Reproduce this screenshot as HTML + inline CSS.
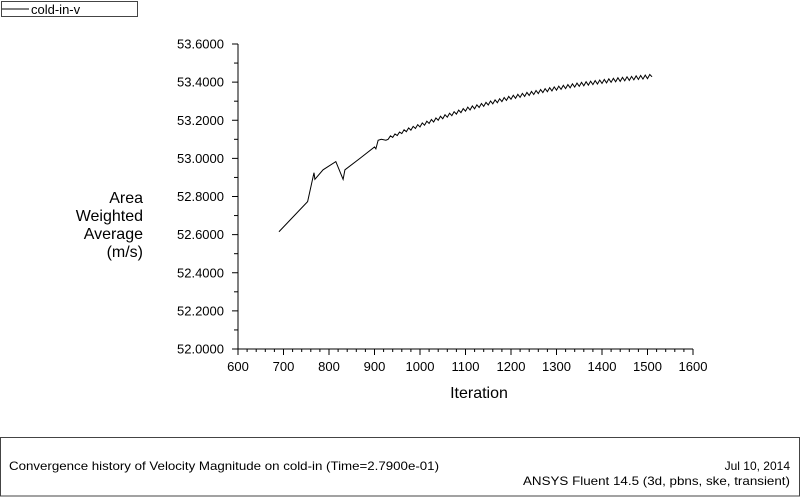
<!DOCTYPE html>
<html><head><meta charset="utf-8"><style>
html,body{margin:0;padding:0;background:#fff;}
svg{display:block;font-family:"Liberation Sans",Arial,sans-serif;}
</style></head><body>
<svg id="chart" width="800" height="497" viewBox="0 0 800 497" xmlns="http://www.w3.org/2000/svg">
<g>
<rect x="1.5" y="1.5" width="136" height="15" fill="#fff" stroke="#444" stroke-width="1"/>
<line x1="2" y1="9" x2="29" y2="9" stroke="#000" stroke-width="1"/>
<text x="31" y="14" font-size="13" fill="#000">cold-in-v</text>
</g>
<g font-size="16" text-anchor="end" fill="#000">
<text x="143" y="203">Area</text>
<text x="143" y="221">Weighted</text>
<text x="143" y="239">Average</text>
<text x="143" y="257">(m/s)</text>
</g>
<text x="479" y="398" font-size="16" text-anchor="middle">Iteration</text>
<g id="axes"></g>
<g id="series"></g>
<g>
<rect x="0.5" y="437.5" width="799" height="58.5" fill="none" stroke="#444"/>
<text x="9" y="470" font-size="12" textLength="430" lengthAdjust="spacingAndGlyphs">Convergence history of Velocity Magnitude on cold-in  (Time=2.7900e-01)</text>
<text x="790" y="470" font-size="12" text-anchor="end">Jul 10, 2014</text>
<text x="790" y="485" font-size="12" text-anchor="end" textLength="267" lengthAdjust="spacingAndGlyphs">ANSYS Fluent 14.5 (3d, pbns, ske, transient)</text>
</g>
</svg>
<script>
const xTicks = [600,700,800,900,1000,1100,1200,1300,1400,1500,1600];
const yTicks = [52.0,52.2,52.4,52.6,52.8,53.0,53.2,53.4,53.6];
const yTickLabels = ["52.0000","52.2000","52.4000","52.6000","52.8000","53.0000","53.2000","53.4000","53.6000"];
const earlyIter = [690,753,767,769,787,815,831,835,868,900,903,908,915,925];
const earlyVal  = [52.615,52.773,52.925,52.89,52.94,52.983,52.89,52.94,53.0,53.06,53.05,53.095,53.10,53.095];
const troughIter = [930,940,950,960,970,980,990,1000,1010,1020,1030,1040,1050,1060,1070,1080,1090,1100,1110,1120,1130,1140,1150,1160,1170,1180,1190,1200,1210,1220,1230,1240,1250,1260,1270,1280,1290,1300,1310,1320,1330,1340,1350,1360,1370,1380,1390,1400,1410,1420,1430,1440,1450,1460,1470,1480,1490,1500];
const troughVal = [53.100,53.110,53.120,53.130,53.140,53.148,53.157,53.165,53.174,53.183,53.191,53.200,53.208,53.216,53.224,53.232,53.240,53.248,53.254,53.260,53.267,53.273,53.280,53.286,53.292,53.298,53.304,53.310,53.315,53.320,53.325,53.330,53.335,53.340,53.345,53.350,53.354,53.358,53.362,53.366,53.370,53.374,53.378,53.381,53.384,53.387,53.390,53.393,53.396,53.399,53.402,53.404,53.407,53.409,53.412,53.414,53.416,53.418];
const peakVal = [53.118,53.128,53.138,53.150,53.160,53.168,53.177,53.186,53.195,53.204,53.212,53.221,53.229,53.237,53.245,53.253,53.261,53.269,53.275,53.281,53.288,53.294,53.301,53.307,53.313,53.319,53.325,53.331,53.336,53.341,53.346,53.351,53.356,53.361,53.366,53.371,53.375,53.379,53.383,53.387,53.391,53.395,53.399,53.402,53.405,53.408,53.411,53.414,53.417,53.420,53.423,53.425,53.428,53.430,53.433,53.435,53.437,53.440];
const endIter = [1510];
const endVal = [53.428];

const X0=238, X1=693, Y0=349, Y1=44;
function sx(v){return X0+(v-600)/1000*(X1-X0);}
function sy(v){return Y0-(v-52.0)/1.6*(Y0-Y1);}
const NS='http://www.w3.org/2000/svg';
const axes=document.getElementById('axes');
function mk(tag,attrs,parent){const e=document.createElementNS(NS,tag);for(const k in attrs)e.setAttribute(k,attrs[k]);parent.appendChild(e);return e;}

const yAxis=mk('line',{x1:X0,y1:Y0,x2:X0,y2:Y1,stroke:'#000','stroke-width':1},axes);


const xAxis=mk('line',{x1:X0,y1:Y0,x2:X1,y2:Y0,stroke:'#000','stroke-width':1},axes);



yTicks.forEach((v,i)=>{
  const y=sy(v);
  const t=mk('line',{x1:X0-6,y1:y,x2:X0,y2:y,stroke:'#000'},axes);
  
  
  const l=mk('text',{x:224,y:y+4.5,'font-size':13,'text-anchor':'end'},axes);
  l.textContent=yTickLabels[i];
  
  
  if(i<yTicks.length-1){
    const ym=sy(v+0.1);
    const m=mk('line',{x1:X0-4,y1:ym,x2:X0,y2:ym,stroke:'#000'},axes);
    
    
  }
});
xTicks.forEach((v,i)=>{
  const x=sx(v);
  const t=mk('line',{x1:x,y1:Y0,x2:x,y2:Y0+6,stroke:'#000'},axes);
  
  
  const l=mk('text',{x:x,y:371,'font-size':13,'text-anchor':'middle'},axes);
  l.textContent=String(v);
  
  
  if(i<xTicks.length-1){
    for(let k=1;k<5;k++){
      const xm=sx(v+k*20);
      const m=mk('line',{x1:xm,y1:Y0,x2:xm,y2:Y0+3,stroke:'#000'},axes);
      
      
    }
  }
});

const pts=[];
earlyIter.forEach((it,i)=>pts.push([sx(it),sy(earlyVal[i])]));
troughIter.forEach((it,i)=>{pts.push([sx(it),sy(troughVal[i])]);pts.push([sx(it+5),sy(peakVal[i])]);});
endIter.forEach((it,i)=>pts.push([sx(it),sy(endVal[i])]));
const path=mk('polyline',{points:pts.map(p=>p[0].toFixed(2)+','+p[1].toFixed(2)).join(' '),fill:'none',stroke:'#000','stroke-width':1},document.getElementById('series'));


</script>
</body></html>
